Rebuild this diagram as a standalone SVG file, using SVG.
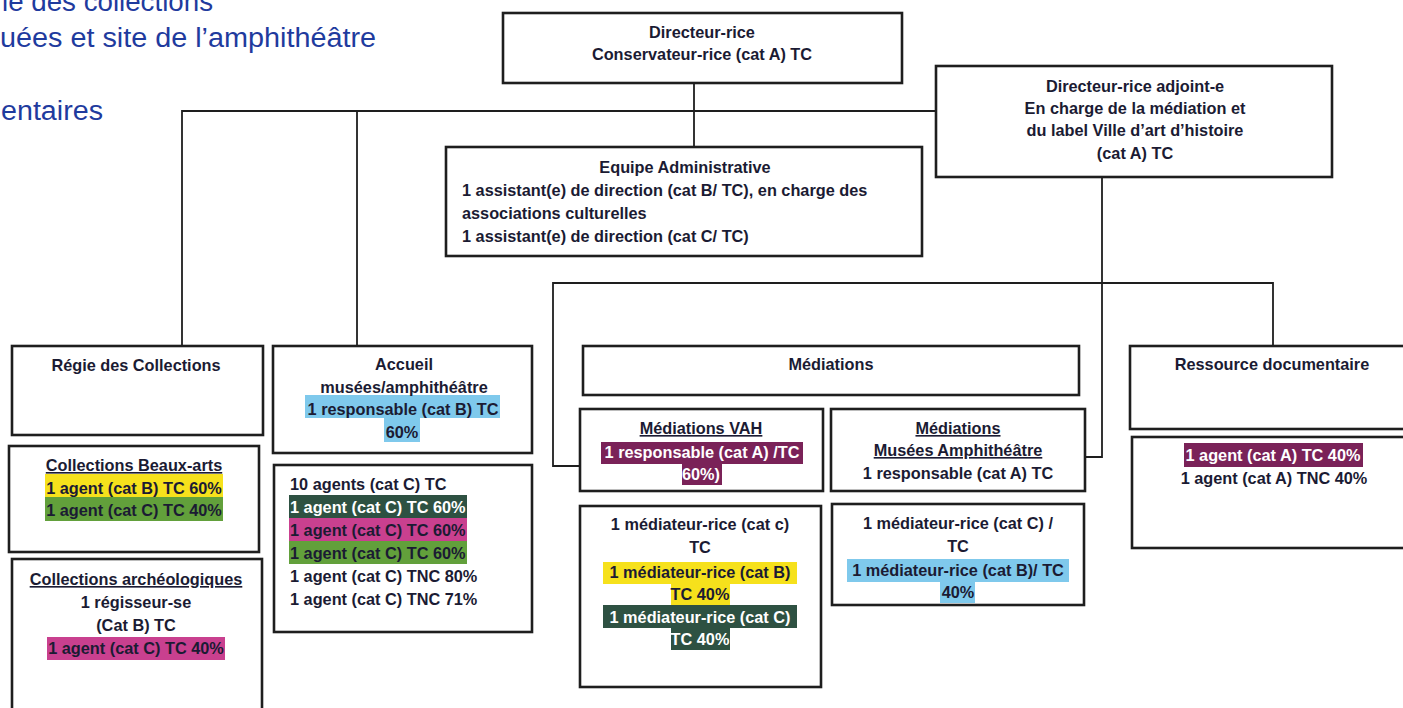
<svg xmlns="http://www.w3.org/2000/svg" width="1403" height="708" viewBox="0 0 1403 708">
<style>
text{font-family:"Liberation Sans",Arial,sans-serif;font-size:16.3px;font-weight:bold;fill:#1b1b33}
.c{text-anchor:middle}
.u{text-decoration:underline}
.w{fill:#ffffff}
.box{fill:#ffffff;stroke:#1e1e1e;stroke-width:2.6}
.ln{fill:none;stroke:#1e1e1e;stroke-width:1.8}
.blue{font-size:27px;font-weight:normal;fill:#1f3b9e}
.hy{fill:#f6e11c}.hg{fill:#62a03b}.hm{fill:#c9408f}.hd{fill:#2e5142}.hp{fill:#7a2258}.hb{fill:#7fc9ec}
</style>
<rect width="1403" height="708" fill="#ffffff"/>
<g id="header-text">
<text class="blue" x="2" y="11" textLength="211" lengthAdjust="spacingAndGlyphs">ie des collections</text>
<text class="blue" x="0" y="47" textLength="376" lengthAdjust="spacingAndGlyphs">uées et site de l’amphithéâtre</text>
<text class="blue" x="1" y="120" textLength="102" lengthAdjust="spacingAndGlyphs">entaires</text>
</g>
<g id="connectors">
<path class="ln" d="M694 83V148"/>
<path class="ln" d="M182 346V111H936"/>
<path class="ln" d="M357 111V346"/>
<path class="ln" d="M1102 177V457H1085"/>
<path class="ln" d="M580 466H553V283H1273V346"/>
</g>
<g id="directeur">
<rect class="box" x="503" y="13" width="399" height="70"/>
<text class="c" x="702" y="38">Directeur-rice</text>
<text class="c" x="702" y="60">Conservateur-rice (cat A) TC</text>
</g>
<g id="adjoint">
<rect class="box" x="936" y="66" width="396" height="111"/>
<text class="c" x="1135" y="92">Directeur-rice adjoint-e</text>
<text class="c" x="1135" y="114">En charge de la médiation et</text>
<text class="c" x="1135" y="136">du label Ville d’art d’histoire</text>
<text class="c" x="1135" y="159">(cat A) TC</text>
</g>
<g id="admin">
<rect class="box" x="446" y="147" width="476" height="109"/>
<text class="c" x="685" y="173">Equipe Administrative</text>
<text x="462" y="196">1 assistant(e) de direction (cat B/ TC), en charge des</text>
<text x="462" y="219">associations culturelles</text>
<text x="462" y="242">1 assistant(e) de direction (cat C/ TC)</text>
</g>
<g id="regie">
<rect class="box" x="12" y="346" width="251" height="89"/>
<text class="c" x="136" y="371">Régie des Collections</text>
</g>
<g id="beaux-arts">
<rect class="box" x="9" y="446" width="250" height="106"/>
<rect class="hy" x="45" y="474" width="178" height="23"/>
<rect class="hg" x="45" y="497" width="178" height="24"/>
<text class="c u" x="134" y="471">Collections Beaux-arts</text>
<text class="c" x="134" y="494">1 agent (cat B) TC 60%</text>
<text class="c" x="134" y="516">1 agent (cat C) TC 40%</text>
</g>
<g id="archeo">
<rect class="box" x="12" y="559" width="250" height="160"/>
<rect class="hm" x="47" y="637" width="178" height="23"/>
<text class="c u" x="136" y="585">Collections archéologiques</text>
<text class="c" x="136" y="608">1 régisseur-se</text>
<text class="c" x="136" y="631">(Cat B) TC</text>
<text class="c" x="136" y="654">1 agent (cat C) TC 40%</text>
</g>
<g id="accueil">
<rect class="box" x="273" y="346" width="259" height="107"/>
<rect class="hb" x="305" y="395" width="195" height="23"/>
<rect class="hb" x="384" y="418" width="36" height="24"/>
<text class="c" x="404" y="370">Accueil</text>
<text class="c" x="404" y="393">musées/amphithéâtre</text>
<text class="c" x="403" y="415">1 responsable (cat B)  TC</text>
<text class="c" x="402" y="438">60%</text>
</g>
<g id="accueil-agents">
<rect class="box" x="274" y="465" width="258" height="167"/>
<rect class="hd" x="289" y="495" width="178" height="23"/>
<rect class="hm" x="289" y="518" width="178" height="23"/>
<rect class="hg" x="289" y="541" width="178" height="23"/>
<text x="290" y="490">10 agents (cat C) TC</text>
<text class="w" x="290" y="513">1 agent (cat C) TC 60%</text>
<text x="290" y="536">1 agent (cat C) TC 60%</text>
<text x="290" y="559">1 agent (cat C) TC 60%</text>
<text x="290" y="582">1 agent (cat C) TNC 80%</text>
<text x="290" y="605">1 agent (cat C) TNC 71%</text>
</g>
<g id="mediations">
<rect class="box" x="583" y="346" width="496" height="49"/>
<text class="c" x="831" y="370">Médiations</text>
</g>
<g id="mediations-vah">
<rect class="box" x="580" y="409" width="243" height="82"/>
<rect class="hp" x="601" y="442" width="202" height="22"/>
<rect class="hp" x="682" y="464" width="40" height="21"/>
<text class="c u" x="701" y="434">Médiations VAH</text>
<text class="c w" x="702" y="458">1 responsable (cat A) /TC</text>
<text class="c w" x="701" y="480">60%)</text>
</g>
<g id="mediations-musees">
<rect class="box" x="831" y="409" width="254" height="82"/>
<text class="c u" x="958" y="434">Médiations</text>
<text class="c u" x="958" y="456">Musées Amphithéâtre</text>
<text class="c" x="958" y="479">1 responsable (cat A) TC</text>
</g>
<g id="vah-mediateurs">
<rect class="box" x="580" y="506" width="241" height="181"/>
<rect class="hy" x="603" y="562" width="194" height="22"/>
<rect class="hy" x="671" y="584" width="59" height="21"/>
<rect class="hd" x="603" y="605" width="194" height="23"/>
<rect class="hd" x="671" y="628" width="59" height="22"/>
<text class="c" x="700" y="530">1 médiateur-rice  (cat c)</text>
<text class="c" x="700" y="553">TC</text>
<text class="c" x="700" y="578">1 médiateur-rice  (cat B)</text>
<text class="c" x="700" y="600">TC 40%</text>
<text class="c w" x="700" y="623">1 médiateur-rice  (cat C)</text>
<text class="c w" x="700" y="645">TC 40%</text>
</g>
<g id="musees-mediateurs">
<rect class="box" x="832" y="504" width="252" height="101"/>
<rect class="hb" x="847" y="559" width="222" height="23"/>
<rect class="hb" x="940" y="582" width="35" height="21"/>
<text class="c" x="958" y="529">1 médiateur-rice (cat C) /</text>
<text class="c" x="958" y="552">TC</text>
<text class="c" x="958" y="576">1 médiateur-rice (cat B)/ TC</text>
<text class="c" x="958" y="598">40%</text>
</g>
<g id="ressource">
<rect class="box" x="1130" y="346" width="290" height="83"/>
<text class="c" x="1272" y="370">Ressource documentaire</text>
</g>
<g id="ressource-agents">
<rect class="box" x="1132" y="437" width="290" height="111"/>
<rect class="hp" x="1184" y="443" width="179" height="24"/>
<text class="c w" x="1273" y="461">1 agent (cat A) TC 40%</text>
<text class="c" x="1274" y="484">1 agent (cat A) TNC 40%</text>
</g>
</svg>
